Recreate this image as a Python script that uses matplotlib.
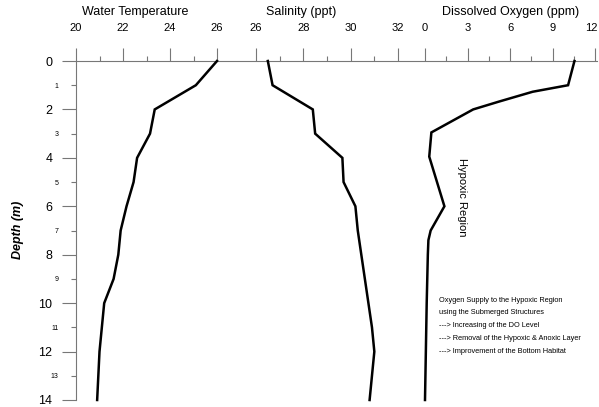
import matplotlib
matplotlib.use("Agg")
import matplotlib.pyplot as plt
from matplotlib.transforms import ScaledTranslation

plt.rcParams['font.family'] = ['Liberation Sans', 'DejaVu Sans']

# ---- data ----
depth = [0, 1, 2, 3, 4, 5, 6, 7, 8, 9, 10, 11, 12, 13, 14]
temperature = [26.0, 25.1, 23.35, 23.15, 22.6, 22.45, 22.15, 21.9, 21.8, 21.6, 21.2, 21.1, 21.0, 20.95, 20.9]
salinity = [26.5, 26.7, 28.4, 28.5, 29.65, 29.7, 30.2, 30.3, 30.45, 30.6, 30.75, 30.9, 31.0, 30.9, 30.8]
do_depth = [0, 1, 1.27, 1.68, 2, 2.95, 3.95, 6.0, 7.0, 7.4, 8, 10, 12, 14]
dissolved_oxygen = [10.55, 10.1, 7.6, 5.2, 3.4, 0.45, 0.3, 1.37, 0.4, 0.24, 0.2, 0.12, 0.06, 0.0]

depth_major = [0, 2, 4, 6, 8, 10, 12, 14]
depth_minor = [1, 3, 5, 7, 9, 11, 13]
temp_ticks = [20, 22, 24, 26]
temp_minor = [21, 23, 25]
sal_ticks = [26, 28, 30, 32]
sal_minor = [27, 29, 31]
do_ticks = [0, 3, 6, 9, 12]
do_minor = [1.5, 4.5, 7.5, 10.5]

titles = ["Water Temperature", "Salinity (ppt)", "Dissolved Oxygen (ppm)"]
note_lines = ["Oxygen Supply to the Hypoxic Region",
              "using the Submerged Structures",
              "---> Increasing of the DO Level",
              "---> Removal of the Hypoxic & Anoxic Layer",
              "---> Improvement of the Bottom Habitat"]

W, H = 599, 407
fig = plt.figure(figsize=(W / 100, H / 100), dpi=100)
fig.patch.set_facecolor('white')

AXC = '#777777'


def rect(x0, x1, y0=61, y1=400):
    return [x0 / W, 1 - y1 / H, (x1 - x0) / W, (y1 - y0) / H]


# depth axis
ax_d = fig.add_axes(rect(76, 597))
ax_d.set_ylim(14, 0)
ax_d.set_xlim(0, 1)
ax_d.set_xticks([])
for s in ['right', 'bottom']:
    ax_d.spines[s].set_visible(False)
for s in ['left', 'top']:
    ax_d.spines[s].set_color(AXC)
    ax_d.spines[s].set_linewidth(0.8)
ax_d.set_yticks(depth_major)
ax_d.set_yticklabels([str(v) for v in depth_major])
ax_d.set_yticks(depth_minor, minor=True)
ax_d.set_yticklabels([str(v) for v in depth_minor], minor=True)
ax_d.tick_params(axis='y', which='major', length=10, width=0.8, color=AXC, pad=7, labelsize=9)
ax_d.tick_params(axis='y', which='minor', length=3.6, width=0.8, color=AXC, pad=9, labelsize=5)
ax_d.patch.set_visible(False)

fig.text(18 / W, 1 - 230 / H, "Depth (m)", rotation=90, ha='center', va='center',
         fontsize=9, fontweight='bold', fontstyle='italic')


def profile_axes(x0, x1, xlim, ticks, minor, xs, ys):
    ax = fig.add_axes(rect(x0, x1))
    ax.patch.set_visible(False)
    for s in ax.spines.values():
        s.set_visible(False)
    ax.set_ylim(14, 0)
    ax.set_yticks([])
    ax.set_xlim(*xlim)
    ax.xaxis.set_ticks_position('top')
    ax.xaxis.set_label_position('top')
    ax.set_xticks(ticks)
    ax.set_xticklabels([str(t) for t in ticks])
    ax.set_xticks(minor, minor=True)
    ax.tick_params(axis='x', which='major', top=True, bottom=False, labeltop=True, labelbottom=False,
                   length=9.4, width=0.8, color=AXC, pad=11, labelsize=8)
    ax.tick_params(axis='x', which='minor', top=True, bottom=False, length=3.5, width=0.8, color=AXC)
    ax.plot(xs, ys, color='black', lw=1.8, clip_on=False, solid_joinstyle='miter')
    return ax


ax_t = profile_axes(76, 217, (20, 26), temp_ticks, temp_minor, temperature, depth)
ax_s = profile_axes(256, 398, (26, 32), sal_ticks, sal_minor, salinity, depth)
ax_o = profile_axes(425, 595, (0, 12), do_ticks, do_minor, dissolved_oxygen, do_depth)

# keep the last DO label inside the picture
last = ax_o.get_xticklabels()[-1]
last.set_transform(last.get_transform() + ScaledTranslation(-4 / 100, 0, fig.dpi_scale_trans))

fig.text(135 / W, 1 - 12 / H, titles[0], ha='center', va='center', fontsize=9)
fig.text(301 / W, 1 - 12 / H, titles[1], ha='center', va='center', fontsize=9)
fig.text(511 / W, 1 - 12 / H, titles[2], ha='center', va='center', fontsize=9)

fig.text(462 / W, 1 - 197 / H, "Hypoxic Region", rotation=270, ha='center', va='center', fontsize=8)

for i, line in enumerate(note_lines):
    fig.text(439 / W, 1 - (300 + i * 12.8) / H, line, ha='left', va='center', fontsize=5.3)

fig.savefig("out.png", dpi=100)
